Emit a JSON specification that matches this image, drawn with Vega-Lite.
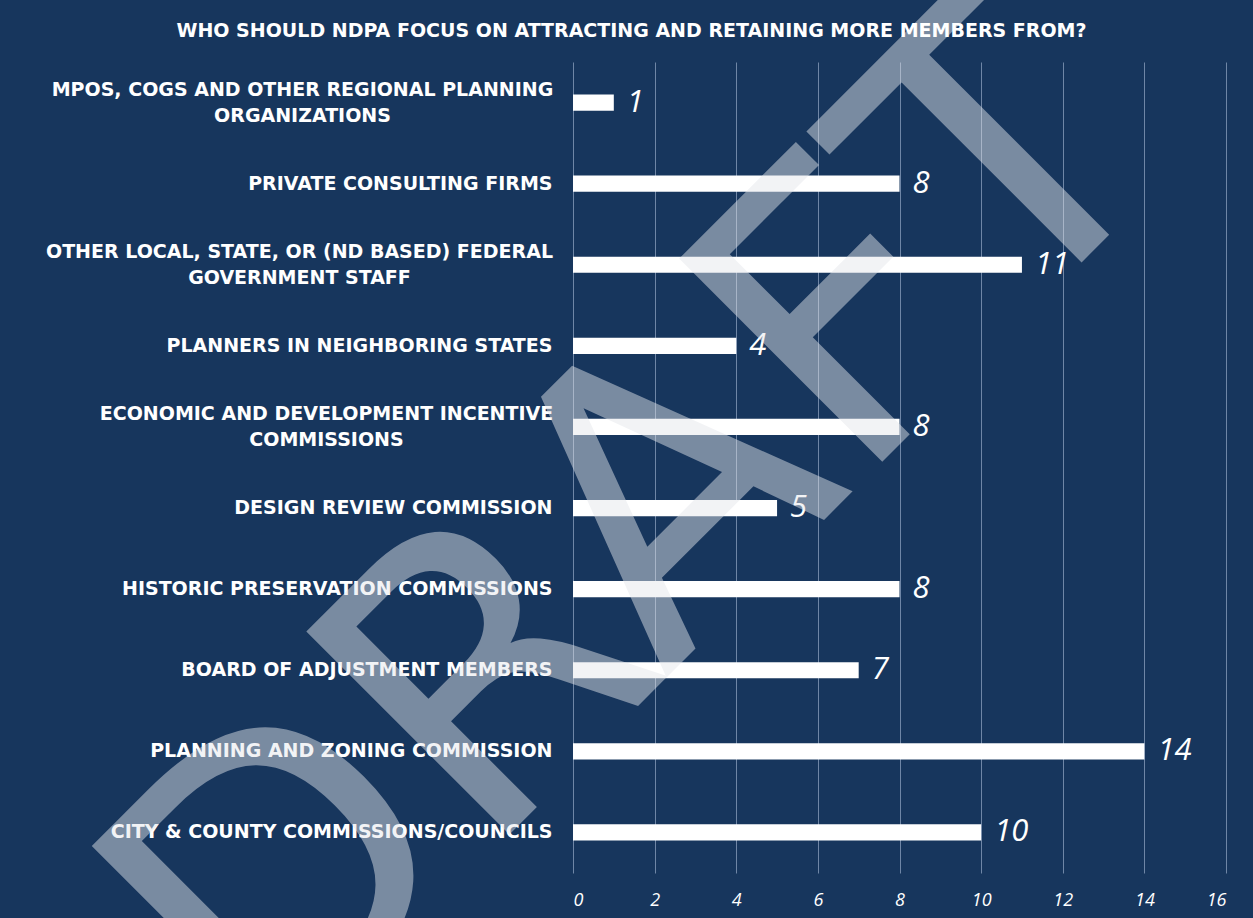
{
  "$schema": "https://vega.github.io/schema/vega-lite/v6.json",
  "autosize": {"type": "none"},
  "width": 653,
  "height": 811,
  "padding": {"left": 573, "top": 62, "right": 27, "bottom": 45},
  "background": "#17365D",
  "title": {
    "text": "WHO SHOULD NDPA FOCUS ON ATTRACTING AND RETAINING MORE MEMBERS FROM?",
    "color": "white",
    "font": "DejaVu Sans",
    "fontSize": 19,
    "fontWeight": "bold",
    "anchor": "middle",
    "frame": "group",
    "baseline": "alphabetic",
    "dx": -268,
    "dy": 115,
    "offset": 0
  },
  "config": {"view": {"stroke": null}},
  "datasets": {
    "responses": [
      {"group": "MPOS, COGS AND OTHER REGIONAL PLANNING\nORGANIZATIONS", "count": 1},
      {"group": "PRIVATE CONSULTING FIRMS", "count": 8},
      {"group": "OTHER LOCAL, STATE, OR (ND BASED) FEDERAL\nGOVERNMENT STAFF", "count": 11},
      {"group": "PLANNERS IN NEIGHBORING STATES", "count": 4},
      {"group": "ECONOMIC AND DEVELOPMENT INCENTIVE\nCOMMISSIONS", "count": 8},
      {"group": "DESIGN REVIEW COMMISSION", "count": 5},
      {"group": "HISTORIC PRESERVATION COMMISSIONS", "count": 8},
      {"group": "BOARD OF ADJUSTMENT MEMBERS", "count": 7},
      {"group": "PLANNING AND ZONING COMMISSION", "count": 14},
      {"group": "CITY & COUNTY COMMISSIONS/COUNCILS", "count": 10}
    ],
    "stamp": [{"word": "DRAFT"}]
  },
  "layer": [
    {
      "data": {"name": "responses"},
      "layer": [
        {
          "mark": {"type": "bar", "color": "white"},
          "encoding": {
            "y": {
              "field": "group",
              "type": "nominal",
              "sort": null,
              "scale": {"paddingInner": 0.8, "paddingOuter": 0.4},
              "axis": {
                "title": null,
                "domain": false,
                "ticks": false,
                "grid": false,
                "labelColor": "white",
                "labelFont": "DejaVu Sans",
                "labelFontWeight": "bold",
                "labelFontSize": 19,
                "labelLimit": 700,
                "labelLineHeight": 26,
                "labelExpr": "split(datum.label, '\\n')",
                "labelOffset": {
                  "condition": {"test": "indexof(datum.value, '\\n') >= 0", "value": -13},
                  "value": 0
                },
                "labelAlign": {
                  "condition": {"test": "indexof(datum.value, '\\n') >= 0", "value": "center"},
                  "value": "right"
                },
                "labelPadding": {
                  "condition": [
                    {"test": "indexof(datum.value, 'MPOS') >= 0", "value": 271},
                    {"test": "indexof(datum.value, 'FEDERAL') >= 0", "value": 274},
                    {"test": "indexof(datum.value, 'INCENTIVE') >= 0", "value": 247}
                  ],
                  "value": 21
                }
              }
            },
            "x": {
              "field": "count",
              "type": "quantitative",
              "scale": {"domain": [0, 16]},
              "axis": {
                "title": null,
                "domain": false,
                "ticks": false,
                "grid": true,
                "gridColor": "#6F86A6",
                "gridWidth": 1,
                "values": [0, 2, 4, 6, 8, 10, 12, 14, 16],
                "labelColor": "white",
                "labelFont": "Open Sans",
                "labelFontStyle": "italic",
                "labelFontSize": 18,
                "labelPadding": 18
              }
            }
          }
        },
        {
          "mark": {
            "type": "text",
            "align": "left",
            "baseline": "middle",
            "dx": 13,
            "font": "Open Sans",
            "fontStyle": "italic",
            "fontSize": 31,
            "color": "white"
          },
          "encoding": {
            "y": {"field": "group", "type": "nominal", "sort": null},
            "x": {"field": "count", "type": "quantitative"},
            "text": {"field": "count", "type": "quantitative"}
          }
        }
      ]
    },
    {
      "data": {"name": "stamp"},
      "mark": {
        "type": "text",
        "angle": -45,
        "align": "center",
        "baseline": "alphabetic",
        "font": "DejaVu Sans",
        "fontSize": 394,
        "color": "#E5E7EC",
        "opacity": 0.48
      },
      "encoding": {
        "x": {"datum": 3.7, "type": "quantitative"},
        "y": {"datum": 0.312, "type": "quantitative", "scale": {"domain": [0, 1]}, "axis": null},
        "text": {"field": "word"}
      }
    }
  ],
  "resolve": {"scale": {"y": "independent"}, "axis": {"y": "independent"}}
}
